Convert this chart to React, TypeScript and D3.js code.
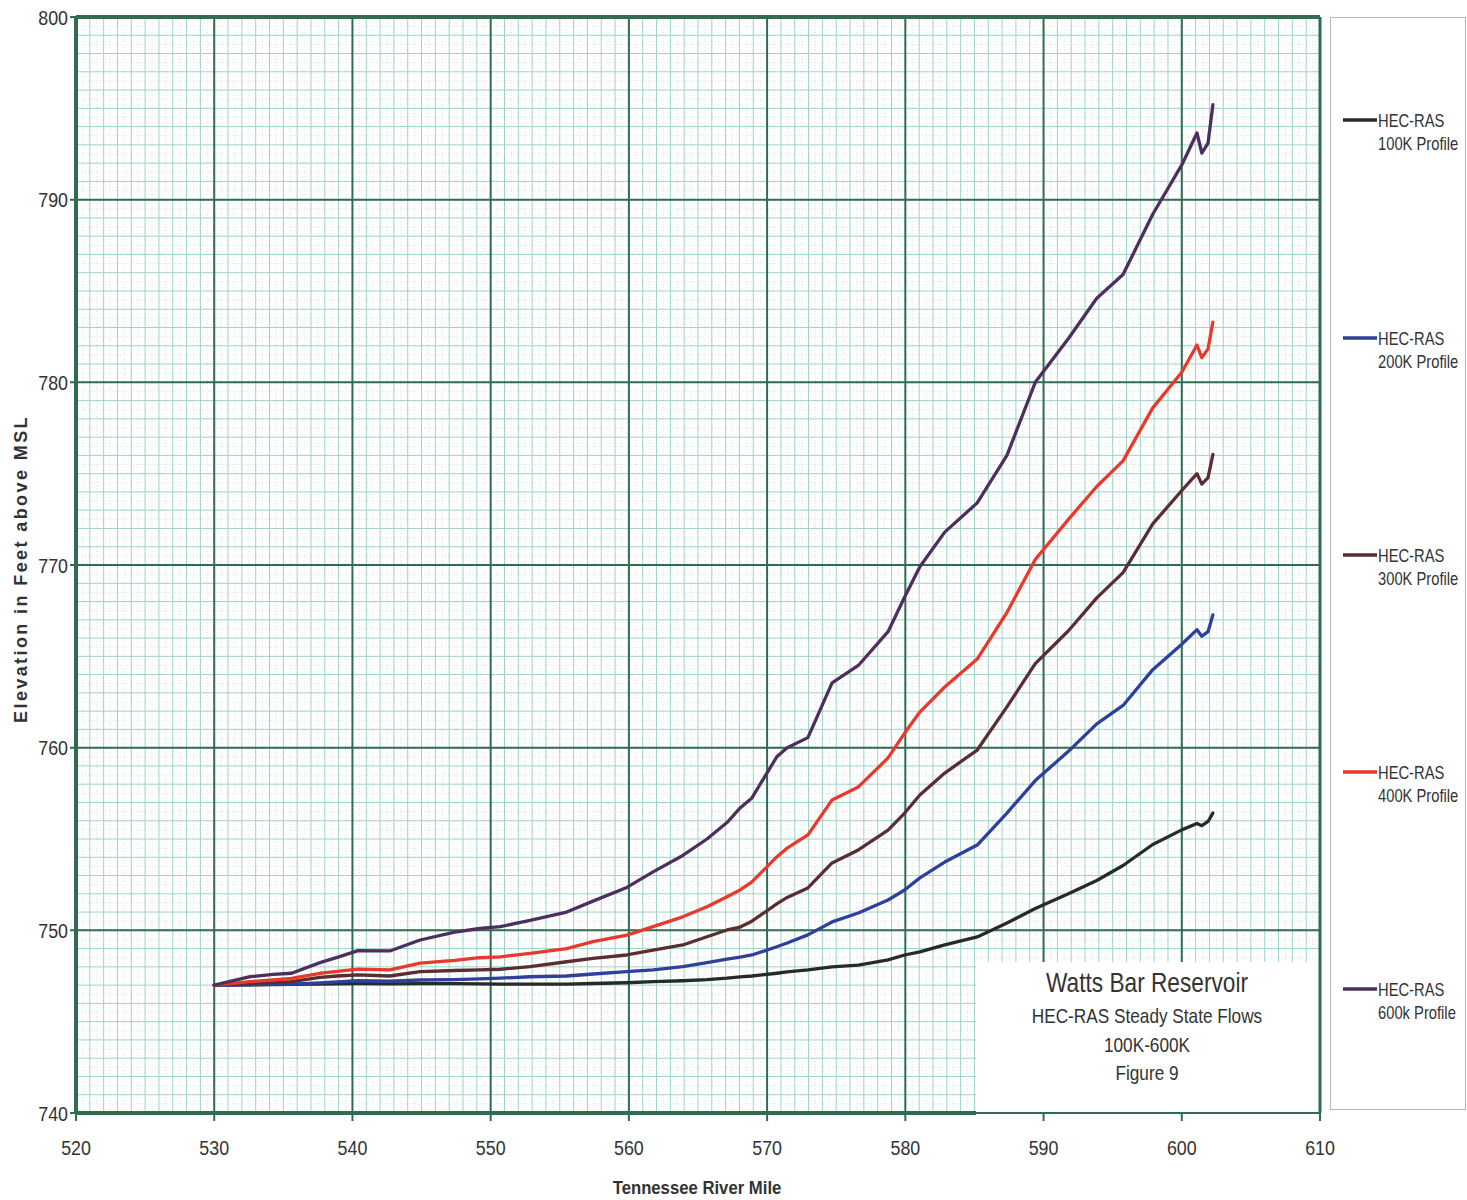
import React from "react";
import * as d3 from "d3";

const miles = [530.0, 532.6, 534.25, 535.6, 537.65, 538.9, 540.4, 542.7, 544.9, 547.4, 549.2, 550.7, 552.85, 555.5, 557.4, 559.85, 561.75, 563.9, 565.65, 567.1, 568.05, 568.9, 570.7, 571.45, 572.95, 574.7, 576.6, 578.75, 579.95, 581.05, 582.85, 585.2, 587.35, 589.4, 591.8, 593.85, 595.75, 597.9, 600.0, 601.1, 601.45, 601.9, 602.25];

const profile100K = [747.0, 747.02, 747.03, 747.04, 747.06, 747.07, 747.08, 747.07, 747.08, 747.08, 747.07, 747.06, 747.06, 747.06, 747.09, 747.13, 747.19, 747.24, 747.3, 747.38, 747.45, 747.5, 747.65, 747.72, 747.83, 748.0, 748.1, 748.38, 748.65, 748.82, 749.2, 749.64, 750.4, 751.2, 752.0, 752.73, 753.55, 754.7, 755.5, 755.85, 755.73, 755.96, 756.42];
const profile200K = [747.0, 747.02, 747.04, 747.05, 747.12, 747.18, 747.24, 747.22, 747.28, 747.3, 747.34, 747.38, 747.46, 747.5, 747.61, 747.74, 747.83, 748.01, 748.23, 748.42, 748.54, 748.65, 749.1, 749.31, 749.75, 750.46, 750.95, 751.66, 752.21, 752.87, 753.74, 754.67, 756.42, 758.2, 759.8, 761.3, 762.31, 764.27, 765.66, 766.46, 766.1, 766.35, 767.27];
const profile300K = [747.0, 747.1, 747.15, 747.19, 747.43, 747.5, 747.56, 747.5, 747.74, 747.8, 747.83, 747.87, 748.01, 748.28, 748.47, 748.65, 748.92, 749.2, 749.65, 750.02, 750.18, 750.5, 751.45, 751.8, 752.32, 753.69, 754.4, 755.49, 756.42, 757.41, 758.61, 759.87, 762.23, 764.6, 766.4, 768.2, 769.58, 772.25, 774.08, 775.0, 774.43, 774.78, 776.05];
const profile400K = [747.0, 747.19, 747.28, 747.37, 747.65, 747.75, 747.88, 747.83, 748.2, 748.35, 748.5, 748.55, 748.74, 749.0, 749.38, 749.74, 750.2, 750.74, 751.29, 751.84, 752.21, 752.65, 754.02, 754.5, 755.22, 757.14, 757.85, 759.44, 760.8, 761.95, 763.32, 764.85, 767.4, 770.3, 772.5, 774.3, 775.7, 778.6, 780.55, 782.04, 781.35, 781.83, 783.3];
const profile600K = [747.0, 747.46, 747.59, 747.65, 748.23, 748.52, 748.89, 748.87, 749.47, 749.9, 750.1, 750.2, 750.55, 751.0, 751.6, 752.35, 753.2, 754.1, 755.0, 755.9, 756.7, 757.25, 759.5, 760.0, 760.55, 763.55, 764.5, 766.35, 768.25, 769.9, 771.8, 773.4, 776.0, 780.0, 782.4, 784.6, 785.9, 789.2, 791.9, 793.65, 792.55, 793.1, 795.2];

const seriesNames = ["HEC-RAS|100K Profile", "HEC-RAS|200K Profile", "HEC-RAS|300K Profile", "HEC-RAS|400K Profile", "HEC-RAS|600k Profile"];
const seriesValues = [profile100K, profile200K, profile300K, profile400K, profile600K];
const seriesColors = ["#272a28", "#2f3f9c", "#5a2e30", "#e8392c", "#4d2f5e"];

const xTicks = [520, 530, 540, 550, 560, 570, 580, 590, 600, 610];
const yTicks = [740, 750, 760, 770, 780, 790, 800];

const titleLines = ["Watts Bar Reservoir", "HEC-RAS Steady State Flows", "100K-600K", "Figure 9"];

const FONT = "'Liberation Sans', Arial, sans-serif";

function NText(props: {
  x: number;
  y: number;
  sx?: number;
  size: number;
  anchor?: string;
  weight?: string;
  baseline?: string;
  children: React.ReactNode;
}) {
  const { x, y, sx = 0.84, size, anchor = "start", weight = "normal", baseline = "auto" } = props;
  return (
    <g transform={`translate(${x},${y}) scale(${sx},1)`}>
      <text
        x={0}
        y={0}
        fontFamily={FONT}
        fontSize={size}
        fontWeight={weight}
        textAnchor={anchor as any}
        dominantBaseline={baseline as any}
        fill="#333"
      >
        {props.children}
      </text>
    </g>
  );
}

export default function App() {
  const x = d3.scaleLinear().domain([520, 610]).range([76, 1320]);
  const y = d3.scaleLinear().domain([740, 800]).range([1113, 17]);

  const minorX = d3.range(520, 611, 1);
  const minorY = d3.range(740, 801, 1);
  const halfX = d3.range(520.5, 610, 1);
  const halfY = d3.range(740.5, 800, 1);

  const line = d3
    .line<number>()
    .x((_, i) => x(miles[i]))
    .y((v) => y(v));

  const legendY = [120, 338, 555, 772, 989];

  return (
    <svg
      width={1467}
      height={1200}
      style={{ position: "absolute", left: 0, top: 0, background: "#fff" }}
    >
      <rect x={0} y={0} width={1467} height={1200} fill="#fff" />
      {/* half-unit dotted grid */}
      <g stroke="#d9e6e2" strokeWidth={1} strokeDasharray="1 2">
        {halfX.map((v) => (
          <line key={"hx" + v} x1={x(v)} x2={x(v)} y1={y(800)} y2={y(740)} />
        ))}
        {halfY.map((v) => (
          <line key={"hy" + v} x1={x(520)} x2={x(610)} y1={y(v)} y2={y(v)} />
        ))}
      </g>
      {/* minor grid */}
      <g stroke="#9fd2c7" strokeWidth={1}>
        {minorX.map((v) => (
          <line key={"mx" + v} x1={x(v)} x2={x(v)} y1={y(800)} y2={y(740)} />
        ))}
        {minorY.map((v) => (
          <line key={"my" + v} x1={x(520)} x2={x(610)} y1={y(v)} y2={y(v)} />
        ))}
      </g>
      {/* title box covering grid */}
      <rect x={976} y={962} width={344} height={151} fill="#fff" />
      {/* major grid */}
      <g stroke="#2f6c50" strokeWidth={2}>
        {xTicks.map((v) => (
          <line key={"Mx" + v} x1={x(v)} x2={x(v)} y1={y(800)} y2={v > 520 && v < 610 && x(v) > 976 ? 962 : y(740) + 8} />
        ))}
        {xTicks.filter((v) => x(v) > 976 && v < 610).map((v) => (
          <line key={"Mxt" + v} x1={x(v)} x2={x(v)} y1={y(740)} y2={y(740) + 8} />
        ))}
        {yTicks.map((v) => (
          <line key={"My" + v} x1={x(520) - 6} x2={v === 740 || y(v) < 962 ? x(610) : 976} y1={y(v)} y2={y(v)} />
        ))}
      </g>
      {/* frame */}
      <g stroke="#2f6c50" fill="none">
        <line x1={x(520)} x2={x(610)} y1={y(800)} y2={y(800)} strokeWidth={4} />
        <line x1={x(520)} x2={x(520)} y1={y(800)} y2={y(740)} strokeWidth={4} />
        <line x1={x(610)} x2={x(610)} y1={y(800)} y2={y(740)} strokeWidth={3} />
        <line x1={x(520)} x2={976} y1={y(740)} y2={y(740)} strokeWidth={4} />
        <line x1={976} x2={x(610)} y1={y(740)} y2={y(740)} strokeWidth={2} />
      </g>
      {/* series */}
      <g fill="none" strokeWidth={3.3} strokeLinejoin="round" strokeLinecap="round">
        {seriesValues.map((vals, i) => (
          <path key={"s" + i} d={line(vals) || ""} stroke={seriesColors[i]} />
        ))}
      </g>
      {/* tick labels */}
      {yTicks.map((v) => (
        <NText key={"yl" + v} x={68} y={y(v)} size={21} sx={0.85} anchor="end" baseline="central">
          {v}
        </NText>
      ))}
      {xTicks.map((v) => (
        <NText key={"xl" + v} x={x(v)} y={1147} size={21} sx={0.85} anchor="middle" baseline="central">
          {v}
        </NText>
      ))}
      {/* axis titles */}
      <NText x={697} y={1188} size={19} sx={0.88} anchor="middle" weight="bold" baseline="central">
        Tennessee River Mile
      </NText>
      <text
        transform={`translate(21,569) rotate(-90)`}
        textAnchor="middle"
        dominantBaseline="central"
        fontFamily={FONT}
        fontWeight="bold"
        fontSize={18}
        letterSpacing={2.4}
        fill="#333"
      >
        Elevation in Feet above MSL
      </text>
      {/* title box text */}
      <NText x={1147} y={992} size={27} sx={0.84} anchor="middle">{titleLines[0]}</NText>
      <NText x={1147} y={1023} size={21} sx={0.82} anchor="middle">{titleLines[1]}</NText>
      <NText x={1147} y={1052} size={21} sx={0.82} anchor="middle">{titleLines[2]}</NText>
      <NText x={1147} y={1080} size={21} sx={0.82} anchor="middle">{titleLines[3]}</NText>
      {/* legend */}
      <rect x={1330.5} y={17.5} width={135} height={1092} fill="none" stroke="#b5b5b5" strokeWidth={1} />
      {seriesNames.map((name, i) => {
        const [a, b] = name.split("|");
        return (
          <g key={"lg" + i}>
            <line x1={1343} x2={1377} y1={legendY[i]} y2={legendY[i]} stroke={seriesColors[i]} strokeWidth={3.5} />
            <NText x={1378} y={legendY[i]} size={18} sx={0.82} baseline="central">{a}</NText>
            <NText x={1378} y={legendY[i] + 23} size={18} sx={0.82} baseline="central">{b}</NText>
          </g>
        );
      })}
    </svg>
  );
}
